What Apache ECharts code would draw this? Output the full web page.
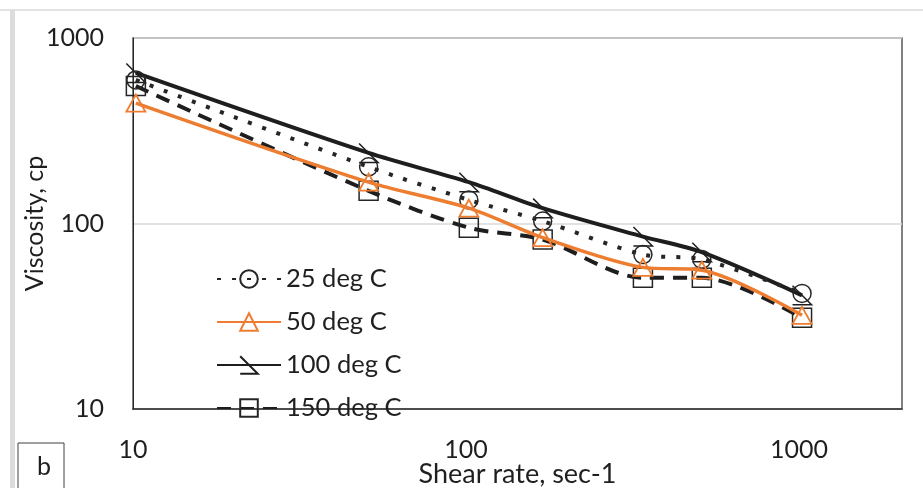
<!DOCTYPE html>
<html>
<head>
<meta charset="utf-8">
<script src="https://cdn.jsdelivr.net/npm/echarts@6/dist/echarts.min.js"></script>
<style>
  html, body { margin: 0; padding: 0; background: #fff; }
  #chart { width: 923px; height: 488px; }
</style>
</head>
<body>
<div id="chart"></div>
<script>
// shear rate (sec-1) and viscosity (cp)
const shearRate = [10.2, 51, 102, 170, 340, 511, 1022];
const visc25 = [594, 202, 134, 103, 68, 64, 42];
const visc50 = [446, 167, 121, 84, 58, 56, 32];
const visc100 = [648, 240, 167, 121, 85, 70, 41];
const visc150 = [551, 150, 95, 82, 51, 51, 31];
const seriesNames = ['25 deg C', '50 deg C', '100 deg C', '150 deg C'];
const tickLabels = ['10', '100', '1000'];

const FONT = 'Lato';
const TXT = '#1f1f1f';
const pairs = (ys) => shearRate.map((x, i) => [x, ys[i]]);
const tickFmt = (v) => {
  const s = String(Math.round(v));
  return tickLabels.includes(s) && Math.abs(v - Number(s)) < 1e-6 ? s : '';
};

const chart = echarts.init(document.getElementById('chart'));

const option = {
  animation: false,
  backgroundColor: '#fff',
  grid: {
    left: 133, right: 21, top: 38, bottom: 79,
    containLabel: false, outerBoundsMode: 'none',
    show: true, borderColor: '#595959', borderWidth: 1.5
  },
  xAxis: {
    type: 'log', logBase: 10, min: 10, max: 2040,
    name: 'Shear rate, sec-1', nameLocation: 'middle', nameGap: 52, nameMoveOverlap: false,
    nameTextStyle: { fontFamily: FONT, fontSize: 27, color: TXT },
    axisLine: { show: true, lineStyle: { color: '#262626', width: 1.5 } },
    axisTick: { show: false },
    splitLine: { show: false },
    minorTick: { show: false },
    axisLabel: { margin: 28, fontFamily: FONT, fontSize: 25, color: TXT, formatter: tickFmt, showMaxLabel: false }
  },
  yAxis: {
    type: 'log', logBase: 10, min: 10, max: 1000,
    name: 'Viscosity, cp', nameLocation: 'middle', nameGap: 86, nameMoveOverlap: false,
    nameTextStyle: { fontFamily: FONT, fontSize: 25, color: TXT },
    axisLine: { show: true, lineStyle: { color: '#262626', width: 1 } },
    axisTick: { show: false },
    splitLine: { show: true, lineStyle: { color: '#d9d9d9', width: 1.5 } },
    axisLabel: { margin: 29, fontFamily: FONT, fontSize: 25, color: TXT, formatter: tickFmt }
  },
  legend: {
    orient: 'vertical', left: 216, top: 266, padding: 0,
    itemWidth: 64, itemHeight: 22, itemGap: 17,
    data: seriesNames,
    textStyle: { fontFamily: FONT, fontSize: 25.5, color: TXT }
  },
  graphic: [
    { type: 'line', shape: { x1: 0, y1: 10, x2: 923, y2: 10 }, style: { stroke: '#dadada', lineWidth: 1.5 } },
    { type: 'rect', shape: { x: 10, y: 10, width: 5, height: 478 }, style: { fill: '#dcdcdc' } },
    { type: 'rect', shape: { x: 18, y: 443, width: 46, height: 50 }, style: { fill: '#fff', stroke: '#404040', lineWidth: 1 } },
    { type: 'text', x: 44, y: 467, style: { text: 'b', fontFamily: FONT, fontSize: 25, fill: TXT, align: 'center', verticalAlign: 'middle' } }
  ],
  series: [
    {
      name: seriesNames[0], type: 'line', data: pairs(visc25), smooth: 0.3,
      symbol: 'circle', symbolSize: 18,
      lineStyle: { color: '#262626', width: 4, type: [4, 11], cap: 'butt' },
      itemStyle: { color: 'rgba(0,0,0,0)', borderColor: '#262626', borderWidth: 1.5 },
      z: 3
    },
    {
      name: seriesNames[1], type: 'line', data: pairs(visc50), smooth: 0.3,
      symbol: 'triangle', symbolSize: [19, 17],
      lineStyle: { color: '#ED7D31', width: 3.5 },
      itemStyle: { color: 'rgba(0,0,0,0)', borderColor: '#ED7D31', borderWidth: 1.8 },
      z: 4
    },
    {
      name: seriesNames[2], type: 'line', data: pairs(visc100), smooth: 0.3,
      symbol: 'path://M0,0L20,20L0,20', symbolSize: 19, symbolKeepAspect: true,
      lineStyle: { color: '#1e1e1e', width: 4 },
      itemStyle: { color: 'rgba(0,0,0,0)', borderColor: '#1e1e1e', borderWidth: 1.5 },
      z: 2
    },
    {
      name: seriesNames[3], type: 'line', data: pairs(visc150), smooth: 0.3,
      symbol: 'rect', symbolSize: 19,
      lineStyle: { color: '#1e1e1e', width: 4, type: [14, 9], cap: 'butt' },
      itemStyle: { color: 'rgba(0,0,0,0)', borderColor: '#262626', borderWidth: 1.5 },
      z: 2
    }
  ]
};

chart.setOption(option);
</script>
</body>
</html>
